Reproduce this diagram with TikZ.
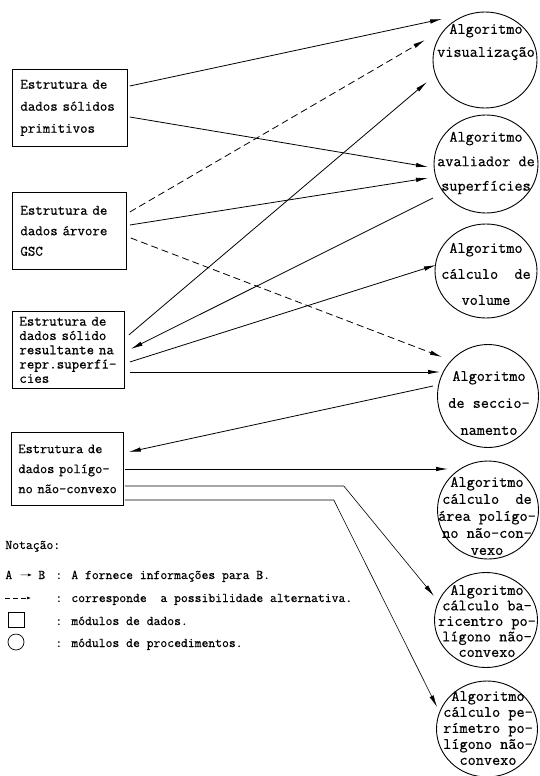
\documentclass[tikz,border=0pt]{standalone}
\usepackage{fontspec}
\newfontfamily\tw{Latin Modern Mono}[FakeBold=0.6]
\usetikzlibrary{shapes.geometric,arrows.meta,calc}
\begin{document}
\begin{tikzpicture}[x=1pt,y=-1pt, line width=0.8pt,
  databox/.style={draw, rectangle, anchor=north west, inner xsep=8pt, inner ysep=0pt, align=left},
  proc/.style={draw, ellipse, inner sep=0pt, line width=0.9pt},
  proctext/.style={align=center, inner sep=0pt},
  flow/.style={-{Latex[length=12pt,width=4.5pt]}},
  alt/.style={flow, dash pattern=on 7pt off 4pt},
  thinflow/.style={flow, line width=0.6pt},
  legtext/.style={anchor=base west, inner sep=0pt, font=\tw\fontsize{13.3}{15}\selectfont}
]
\useasboundingbox (0,0) rectangle (539,776);

% data boxes
\node[databox, minimum width=115pt, minimum height=77pt, text width=99pt,
  font=\tw\fontsize{14.5}{22}\selectfont] (b1) at (12,69)
  {Estrutura de\\dados sólidos\\primitivos};
\node[databox, minimum width=114pt, minimum height=77pt, text width=98pt,
  font=\tw\fontsize{14.5}{20.5}\selectfont] (b2) at (12,192)
  {Estrutura de\\dados árvore\\GSC};
\node[databox, inner xsep=7pt, minimum width=112pt, minimum height=77pt, text width=98pt,
  font=\tw\fontsize{14.5}{14.3}\selectfont] (b3) at (12,311)
  {Estrutura de\\dados sólido\\resultante na\\repr.superfí-\\cies};
\node[databox, inner xsep=7pt, minimum width=112pt, minimum height=73pt, text width=98pt,
  font=\tw\fontsize{14}{20}\selectfont] (b4) at (11,432)
  {Estrutura de\\dados polígo-\\\mbox{no não-convexo}};

% procedure circles
\node[proc, minimum width=104pt, minimum height=96pt] (c1) at (485,60) {};
\node[proc, minimum width=104pt, minimum height=98pt] (c2) at (486,164) {};
\node[proc, minimum width=102pt, minimum height=94pt] (c3) at (486,271) {};
\node[proc, minimum width=101pt, minimum height=103pt] (c4) at (488,396) {};
\node[proc, minimum width=101pt, minimum height=98pt] (c5) at (488,510) {};
\node[proc, minimum width=103pt, minimum height=95pt] (c6) at (486,620) {};
\node[proc, minimum width=101pt, minimum height=96pt] (c7) at (487,729) {};

\node[proctext, font=\tw\fontsize{15.8}{23}\selectfont] (t1) at (486,42) {Algoritmo\\visualização};
\node[proctext, font=\tw\fontsize{15.8}{24.5}\selectfont] (t2) at (486,163) {Algoritmo\\avaliador de\\superfícies};
\node[proctext, font=\tw\fontsize{15.8}{26}\selectfont] (t3) at (486,274) {Algoritmo\\cálculo~~de\\volume};
\node[proctext, font=\tw\fontsize{15.8}{27}\selectfont] (t4) at (489,403) {Algoritmo\\de seccio-\\namento};
\node[proctext, font=\tw\fontsize{15.8}{17}\selectfont] (t5) at (487,516) {Algoritmo\\cálculo~~de\\área polígo-\\no não-con-\\vexo};
\node[proctext, font=\tw\fontsize{15.8}{15.5}\selectfont] (t6) at (487,621) {Algoritmo\\cálculo ba-\\ricentro po-\\lígono não-\\convexo};
\node[proctext, font=\tw\fontsize{15.8}{16}\selectfont] (t7) at (488,728) {Algoritmo\\cálculo pe-\\rímetro po-\\lígono não-\\convexo};

% connectors
\draw[flow] ($(b1.north east)+(2,17)$) -- ($(c1)+(-43,-41)$);
\draw[flow] ($(b1.north east)+(2,48)$) -- ($(c2)+(-58,3)$);
\draw[alt] ($(b2.north east)+(3,20)$) -- ($(c1)+(-60,-20)$);
\draw[flow] ($(b2.north east)+(3,33)$) -- ($(c2)+(-58,14)$);
\draw[alt] ($(b2.north east)+(4,46)$) -- ($(c4)+(-46,-39)$);
\draw[flow] ($(b3.north east)+(4,24)$) -- ($(c1)+(-58,22)$);
\draw[flow] ($(c2)+(-53,34)$) -- ($(b3.north east)+(6,38)$);
\draw[flow] ($(b3.north east)+(5,51)$) -- ($(c3)+(-50,-6)$);
\draw[flow] ($(b3.north east)+(5,61)$) -- ($(c4)+(-48,-24)$);
\draw[flow] ($(c4)+(-55,-10)$) -- ($(b4.north east)+(5,20)$);
\draw[flow] ($(b4.north east)+(1,37)$) -- ($(c5)+(-40,-41)$);
\draw[thinflow] ($(b4.north east)+(1,54)$) -- ++(219,0) -- ($(c6)+(-52,-24)$);
\draw[thinflow] ($(b4.north east)+(1,68)$) -- ++(209,0) -- ($(c7)+(-50,-22)$);

% legend
\node[legtext] (n0) at (5,549) {Notação:};
\node[legtext] (la) at (5,579) {A};
\node[legtext] (lb) at (38,579) {B};
\draw[-{Latex[length=4pt,width=3pt]}, line width=0.6pt] ($(la.east)+(8,0)$) -- ($(lb.west)+(-6,0)$);
\node[legtext] (lat) at (55,579) {: A fornece informações para B.};
\coordinate (d0) at (5,598);
\coordinate (d1) at (31,598);
\draw[-{Latex[length=4pt,width=3pt]}, line width=0.6pt, dash pattern=on 5pt off 3pt] (d0) -- (d1);
\node[legtext] (ldt) at (55,602) {: corresponde~~a possibilidade alternativa.};
\node[draw, rectangle, minimum width=16pt, minimum height=15pt, inner sep=0pt, line width=0.6pt] (lsq) at (16,620) {};
\node[legtext] (lst) at (55,625) {: módulos de dados.};
\node[draw, circle, minimum size=16pt, inner sep=0pt, line width=0.7pt] (lci) at (16,642) {};
\node[legtext] (lct) at (55,647) {: módulos de procedimentos.};
\end{tikzpicture}
\end{document}
